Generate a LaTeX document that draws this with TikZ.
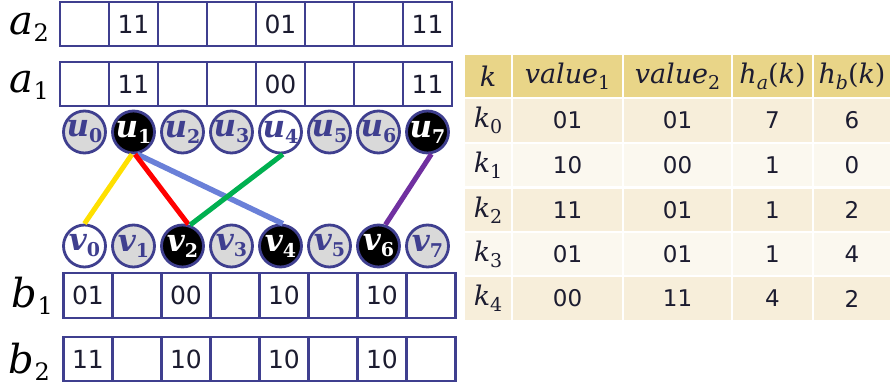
\documentclass[tikz,border=0pt]{standalone}
\usepackage{fontspec}
\newfontfamily\dv{DejaVu Sans}
\newfontfamily\dvs{DejaVu Serif}
\definecolor{bord}{HTML}{3F3F8F}
\definecolor{cgray}{HTML}{D9D9D9}
\definecolor{txt}{HTML}{1C1C30}
\definecolor{hdr}{HTML}{E9D588}
\definecolor{rowA}{HTML}{F7EEDA}
\definecolor{rowB}{HTML}{FBF8EF}
\definecolor{eyel}{HTML}{FFE000}
\definecolor{ered}{HTML}{FF0000}
\definecolor{eblue}{HTML}{6A80D8}
\definecolor{egreen}{HTML}{00B050}
\definecolor{epurp}{HTML}{7030A0}
% #1 main size, #2 sub size, #3 main text, #4 subscript, #5 drop
\newcommand{\msub}[5]{{\fontsize{#1}{#1}\selectfont #3}\raisebox{-#5}{\fontsize{#2}{#2}\selectfont #4}}
\begin{document}
\begin{tikzpicture}[x=1pt,y=-1pt,
  arrcell/.style={draw=bord, line width=2.8pt, minimum width=49pt, minimum height=44pt,
    inner sep=0pt, text=txt, font=\dv\fontsize{25}{25}\selectfont},
  arrlbl/.style={anchor=base east, inner sep=0pt, text=black, font=\dvs},
  circ/.style={circle, draw=bord, line width=2.8pt, minimum size=42pt, inner sep=0pt},
  clbl/.style={inner sep=0pt, font=\dvs\bfseries},
  edge/.style={line width=5pt},
  tcell/.style={draw=white, line width=2pt, inner sep=0pt, minimum height=44.5pt, text=txt,
    font=\dv\fontsize{23}{23}\selectfont},
  thead/.style={tcell, fill=hdr, font=\dvs\fontsize{27}{27}\selectfont}
]
\useasboundingbox (0,0) rectangle (891,387);

% arrays
\foreach \i/\t in {0/{},1/11,2/{},3/{},4/01,5/{},6/{},7/11}
  \node[arrcell] (a2c\i) at (84.5+49*\i,24) {\t};
\foreach \i/\t in {0/{},1/11,2/{},3/{},4/00,5/{},6/{},7/11}
  \node[arrcell] (a1c\i) at (84.5+49*\i,84) {\t};
\foreach \i/\t in {0/01,1/{},2/00,3/{},4/10,5/{},6/10,7/{}}
  \node[arrcell, minimum height=45pt] (b1c\i) at (88+49*\i,295.5) {\t};
\foreach \i/\t in {0/11,1/{},2/10,3/{},4/10,5/{},6/10,7/{}}
  \node[arrcell] (b2c\i) at (88+49*\i,359) {\t};

\node[arrlbl] (la2) at (49,35) {\msub{40}{24}{\itshape a}{2}{7pt}};
\node[arrlbl] (la1) at (49,93) {\msub{40}{24}{\itshape a}{1}{7pt}};
\node[arrlbl] (lb1) at (53,307) {\msub{40}{24}{\itshape b}{1}{7pt}};
\node[arrlbl] (lb2) at (50,373) {\msub{40}{24}{\itshape b}{2}{7pt}};

% circles
\foreach \i/\f/\c in {0/cgray/bord,1/black/white,2/cgray/bord,3/cgray/bord,4/white/bord,5/cgray/bord,6/cgray/bord,7/black/white}
  \node[circ, fill=\f, label={[clbl, text=\c]center:\msub{31}{19}{\itshape u}{\i}{6pt}}] (u\i) at (84.5+49*\i,132) {};
\foreach \i/\f/\c in {0/white/bord,1/cgray/bord,2/black/white,3/cgray/bord,4/black/white,5/cgray/bord,6/black/white,7/cgray/bord}
  \node[circ, fill=\f, label={[clbl, text=\c]center:\msub{31}{19}{\itshape v}{\i}{6pt}}] (v\i) at (84.5+49*\i,246) {};

% edges
\draw[edge, eblue, line width=5.5pt] (u1.-81) -- (v4.84);
\draw[edge, eyel] (u1.-94) -- (v0.90);
\draw[edge, ered] (u1.-86) -- (v2.75);
\draw[edge, egreen] (u4.-84) -- (v2.70);
\draw[edge, epurp] (u7.-80) -- (v6.72);

% table header
\node[thead, minimum width=48pt]  (h0) at (488,76.5) {\itshape k};
\node[thead, minimum width=111pt] (h1) at (567.5,76.5) {\msub{27}{19}{\itshape value}{1}{6pt}};
\node[thead, minimum width=109pt] (h2) at (677.5,76.5) {\msub{27}{19}{\itshape value}{2}{6pt}};
\node[thead, minimum width=81pt]  (h3) at (772.5,76.5) {\msub{27}{19}{\itshape h}{\itshape a}{6pt}(\textit{k})};
\node[thead, minimum width=78pt]  (h4) at (852,76.5) {\msub{27}{19}{\itshape h}{\itshape b}{6pt}(\textit{k})};
% table rows
\foreach \r/\yc/\fc/\tb/\tc/\td/\te in {0/120.5/rowA/01/01/7/6, 1/165/rowB/10/00/1/0, 2/210/rowA/11/01/1/2, 3/254.5/rowB/01/01/1/4, 4/298.5/rowA/00/11/4/2}{
  \node[tcell, fill=\fc, minimum width=48pt, font=\dvs] (r\r c0) at (488,\yc) {\msub{27}{19}{\itshape k}{\r}{6pt}};
  \node[tcell, fill=\fc, minimum width=111pt] (r\r c1) at (567.5,\yc) {\tb};
  \node[tcell, fill=\fc, minimum width=109pt] (r\r c2) at (677.5,\yc) {\tc};
  \node[tcell, fill=\fc, minimum width=81pt]  (r\r c3) at (772.5,\yc) {\td};
  \node[tcell, fill=\fc, minimum width=78pt]  (r\r c4) at (852,\yc) {\te};
}
\end{tikzpicture}
\end{document}
